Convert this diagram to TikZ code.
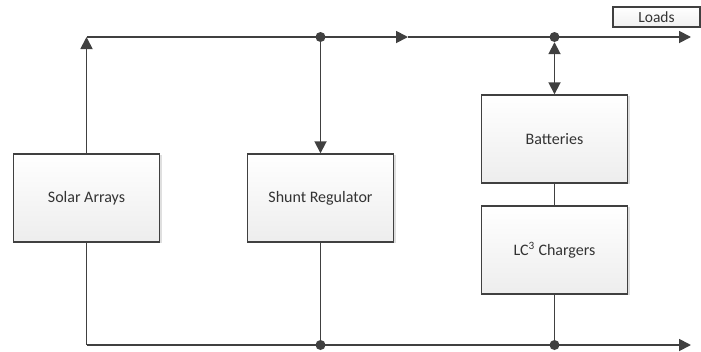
\documentclass[tikz,border=0pt]{standalone}
\usepackage{fontspec}
\setmainfont{Carlito}
\usetikzlibrary{arrows.meta,shadows}
\definecolor{ln}{HTML}{404040}
\tikzset{
  blk/.style={draw=ln, line width=1.4pt, top color=white, bottom color=gray!14,
    minimum width=146pt, minimum height=88pt, inner sep=0pt, font=\fontsize{16}{18}\selectfont,
    text=black!80, drop shadow={shadow xshift=2pt, shadow yshift=-1pt, opacity=0.25, fill=gray}},
  wire/.style={draw=ln, line width=1.8pt},
  tip/.style={-{Triangle[length=12pt,width=12pt]}},
  dot/.style={circle, fill=ln, inner sep=0pt, minimum size=10pt},
}
\begin{document}
\begin{tikzpicture}[x=1pt,y=-1pt]
\useasboundingbox (0,0) rectangle (701,351);
\node[blk] (solar) at (86.5,198) {Solar Arrays};
\node[blk] (shunt) at (320.5,198) {Shunt Regulator};
\node[blk] (bat) at (554.5,139) {Batteries};
\node[blk] (chg) at (554.5,250) {LC\textsuperscript{3} Chargers};
\node[draw=ln, line width=1.2pt, top color=white, bottom color=gray!12, minimum width=87pt, minimum height=20pt, inner sep=0pt,
  font=\fontsize{15.5}{17}\selectfont, text=black!80] (loads) at (656.5,17) {Loads};
\node[dot] (d1) at (320.5,37) {};
\node[dot] (d2) at (554.5,37) {};
\node[dot] (d3) at (320.5,345) {};
\node[dot] (d4) at (554.5,345) {};
\coordinate (tl) at (86.5,37);
\coordinate (tr) at (691,37);
\coordinate (bl) at (86.5,345);
\coordinate (br) at (691,345);
\coordinate (mid) at (408,37);
% top bus
\draw[wire, tip] (solar.north) -- (tl);
\draw[wire] (tl) -- (d1.center);
\draw[wire, tip] (d1.center) -- (mid);
\draw[wire, tip] (mid) -- (tr);
\draw[wire, tip] (d1.center) -- (shunt.north);
\draw[wire, {Triangle[length=12pt,width=12pt]}-{Triangle[length=12pt,width=12pt]}] (d2.south) -- (bat.north);
\draw[wire] (bat.south) -- (chg.north);
% bottom bus
\draw[wire] (solar.south) -- (bl);
\draw[wire, tip] (bl) -- (br);
\draw[wire] (shunt.south) -- (d3.center);
\draw[wire] (chg.south) -- (d4.center);
\end{tikzpicture}
\end{document}
